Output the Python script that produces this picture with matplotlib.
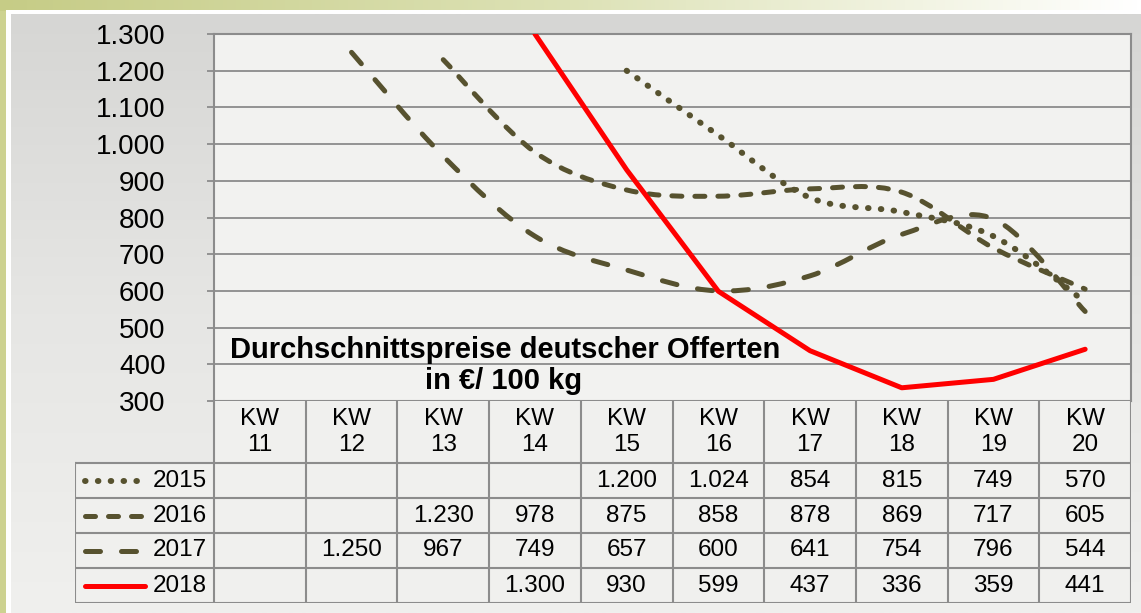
import numpy as np
import matplotlib
matplotlib.use("Agg")
import matplotlib.pyplot as plt
from matplotlib.path import Path
from matplotlib.patches import PathPatch, Rectangle
from matplotlib.colors import LinearSegmentedColormap

plt.rcParams['font.family'] = ['Liberation Sans', 'DejaVu Sans']

# data
weeks = [11, 12, 13, 14, 15, 16, 17, 18, 19, 20]
years = ['2015', '2016', '2017', '2018']
p2015 = [None, None, None, None, 1200, 1024, 854, 815, 749, 570]
p2016 = [None, None, 1230, 978, 875, 858, 878, 869, 717, 605]
p2017 = [None, 1250, 967, 749, 657, 600, 641, 754, 796, 544]
p2018 = [None, None, None, 1300, 930, 599, 437, 336, 359, 441]
series = [p2015, p2016, p2017, p2018]
y_ticks = list(range(300, 1301, 100))

OLIVE = '#57522f'
styles = [
    dict(color=OLIVE, dashes=(0.1, 2.05), lw=4.3, smooth=True),
    dict(color=OLIVE, dashes=(2.0, 2.6), lw=3.6, smooth=True),
    dict(color=OLIVE, dashes=(3.0, 4.2), lw=3.6, smooth=True),
    dict(color='#ff0000', dashes=None, lw=3.6, smooth=False),
]
GRID = '#8c8c8c'
FS_TAB = 17.5

W, H = 1141, 613
fig = plt.figure(figsize=(W / 100, H / 100), dpi=100)
fig.patch.set_facecolor('#cdd290')

# background frame
bg = fig.add_axes([0, 0, 1, 1])
bg.set_xlim(0, W)
bg.set_ylim(H, 0)
bg.axis('off')
top_cmap = LinearSegmentedColormap.from_list('top', ['#c6cc86', '#dde2b6', '#ffffff'])
bg.imshow(np.linspace(0, 1, 256)[None, :], cmap=top_cmap, aspect='auto',
          extent=(0, W, 11, 0), zorder=0)
bg.add_patch(Rectangle((6, 10), W, H, facecolor='white', edgecolor='none', zorder=1))
panel_cmap = LinearSegmentedColormap.from_list('panel', ['#d6d6d4', '#e6e6e4', '#f0f0ee'])
bg.imshow(np.linspace(0, 1, 256)[:, None], cmap=panel_cmap, aspect='auto',
          extent=(11, W, H, 14), zorder=2)
bg.set_xlim(0, W)
bg.set_ylim(H, 0)

# main chart
ax = fig.add_axes([214 / W, 1 - 401 / H, 917 / W, 367 / H])
ax.set_facecolor('#f2f2f0')
ax.set_xlim(-0.5, len(weeks) - 0.5)
ax.set_ylim(300, 1300)
ax.set_yticks(y_ticks)
ax.set_yticklabels([f"{v:,}".replace(',', '.') for v in y_ticks], fontsize=20)
ax.set_xticks([])
ax.tick_params(axis='y', length=5, width=1.3, color=GRID, pad=30)
ax.grid(axis='y', color=GRID, lw=1.3)
ax.set_axisbelow(True)
for s in ax.spines.values():
    s.set_color(GRID)
    s.set_linewidth(1.5)


def smooth_path(xs, ys):
    pts = np.column_stack([xs, ys]).astype(float)
    verts = [pts[0]]
    codes = [Path.MOVETO]
    n = len(pts)
    for i in range(n - 1):
        p0 = pts[max(i - 1, 0)]
        p1 = pts[i]
        p2 = pts[i + 1]
        p3 = pts[min(i + 2, n - 1)]
        verts += [p1 + (p2 - p0) / 6, p2 - (p3 - p1) / 6, p2]
        codes += [Path.CURVE4] * 3
    return Path(verts, codes)


for vals, st, z in zip(series, styles, [3, 3, 3, 4]):
    xs = [i for i, v in enumerate(vals) if v is not None]
    ys = [v for v in vals if v is not None]
    if st['smooth']:
        patch = PathPatch(smooth_path(xs, ys), facecolor='none', edgecolor=st['color'],
                          lw=st['lw'], linestyle=(0, st['dashes']), capstyle='round',
                          joinstyle='round', zorder=z)
        ax.add_patch(patch)
    else:
        ax.plot(xs, ys, color=st['color'], lw=st['lw'], solid_joinstyle='round',
                solid_capstyle='round', zorder=z)

ax.text(0.318, 0.14, 'Durchschnittspreise deutscher Offerten', transform=ax.transAxes,
        ha='center', va='center', fontsize=21, fontweight='bold')
ax.text(0.316, 0.054, 'in €/ 100 kg', transform=ax.transAxes,
        ha='center', va='center', fontsize=21, fontweight='bold')

# data table below the chart
unit = 917 / len(weeks)
left = -0.5 - 139 / unit
tab = fig.add_axes([75 / W, 1 - 603 / H, (1131 - 75) / W, 202 / H])
tab.set_xlim(left, len(weeks) - 0.5)
tab.set_ylim(202, 0)
tab.axis('off')
tab.add_patch(Rectangle((-0.5, 0), len(weeks), 62, facecolor='#f0f0ee', edgecolor='none', zorder=0))
tab.add_patch(Rectangle((left, 62), len(weeks) + 0.5 - left, 140, facecolor='#f0f0ee',
                        edgecolor='none', zorder=0))
row_edges = [62, 97, 132, 167, 202]
for k in range(len(weeks) + 1):
    tab.plot([k - 0.5, k - 0.5], [0, 202], color=GRID, lw=1.5, zorder=1)
tab.plot([left, left], [62, 202], color=GRID, lw=1.5, zorder=1)
for yy in row_edges:
    tab.plot([left, len(weeks) - 0.5], [yy, yy], color=GRID, lw=1.5, zorder=1)

for i, w in enumerate(weeks):
    tab.text(i, 31, f"KW\n{w}", ha='center', va='center', fontsize=FS_TAB, linespacing=1.2)

for r, (yr, vals, st) in enumerate(zip(years, series, styles)):
    yc = (row_edges[r] + row_edges[r + 1]) / 2
    lx0 = -0.5 + (85 - 214) / unit
    lx1 = -0.5 + (145 - 214) / unit
    if st['dashes'] is None:
        tab.plot([lx0, lx1], [yc, yc], color=st['color'], lw=st['lw'], solid_capstyle='round')
    else:
        tab.plot([lx0, lx1], [yc, yc], color=st['color'], lw=st['lw'], dashes=st['dashes'],
                 dash_capstyle='round')
    tab.text(-0.5 + (207 - 214) / unit, yc, yr, ha='right', va='center', fontsize=FS_TAB)
    for i, v in enumerate(vals):
        if v is not None:
            tab.text(i, yc, f"{v:,}".replace(',', '.'), ha='center', va='center', fontsize=FS_TAB)

fig.savefig('out.png', dpi=100, facecolor=fig.get_facecolor())
